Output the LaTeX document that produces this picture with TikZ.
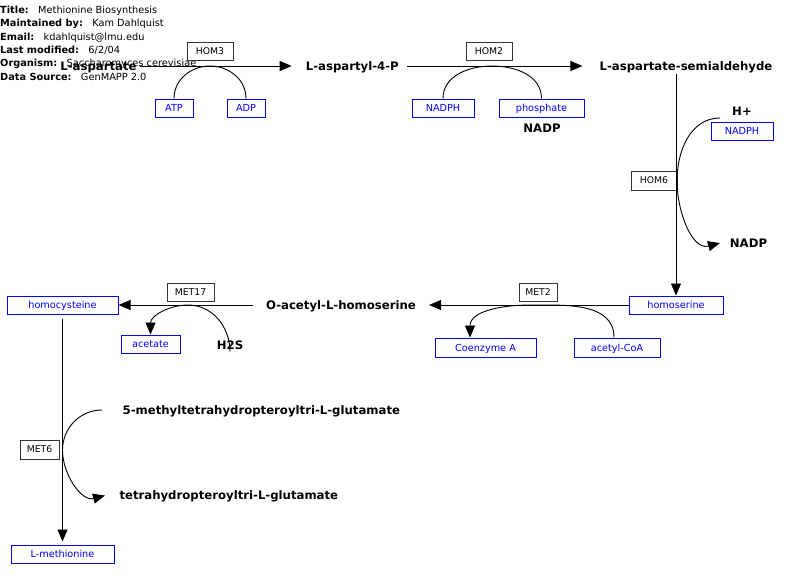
\documentclass[tikz,border=0pt]{standalone}
\usepackage{fontspec}
\setmainfont{DejaVu Sans}
\usetikzlibrary{arrows.meta}
\begin{document}
\begin{tikzpicture}[x=1pt,y=-1pt,
  met/.style={font=\fontsize{11.7}{14}\selectfont\bfseries, inner sep=0pt, text height=8.5pt, text depth=0pt},
  enz/.style={draw=black!80, line width=0.9pt, font=\fontsize{9.3}{11}\selectfont, minimum height=18pt, inner sep=0pt, text height=6.8pt, text depth=0pt},
  gene/.style={draw=blue, line width=1pt, text=blue, font=\fontsize{9.7}{11}\selectfont, minimum height=18pt, inner sep=0pt, text height=7.1pt, text depth=0pt},
  info/.style={anchor=west, inner sep=0pt, font=\fontsize{9.8}{12}\selectfont, text height=7.2pt, text depth=0pt},
  rxn/.style={-{Triangle[length=12pt,width=10pt]}, line width=0.9pt},
  side/.style={line width=0.9pt},
  sidearr/.style={-{Triangle[length=12pt,width=10pt]}, line width=0.9pt}]
\useasboundingbox (0,0) rectangle (800,578);

% info block
\node[info] (t1) at (0,10) {\textbf{Title:}\ \ \ Methionine Biosynthesis};
\node[info] (t2) at (0,23.3) {\textbf{Maintained by:}\ \ \ Kam Dahlquist};
\node[info] (t3) at (0,36.6) {\textbf{Email:}\ \ \ kdahlquist@lmu.edu};
\node[info] (t4) at (0,50) {\textbf{Last modified:}\ \ \ 6/2/04};
\node[info] (t5) at (0,63.3) {\textbf{Organism:}\ \ \ Saccharomyces cerevisiae};
\node[info] (t6) at (0,76.6) {\textbf{Data Source:}\ \ \ GenMAPP 2.0};

% metabolites
\node[met] (asp) at (98.5,66) {L-aspartate};
\node[met] (asp4p) at (352.3,66) {L-aspartyl-4-P};
\node[met] (sald) at (686,66) {L-aspartate-semialdehyde};
\node[met] (nadp1) at (542,128) {NADP};
\node[met] (hplus) at (742,111.5) {H+};
\node[met] (nadp2) at (748.5,243) {NADP};
\node[met] (oah) at (341,305) {O-acetyl-L-homoserine};
\node[met] (h2s) at (230,345) {H2S};
\node[met, anchor=west] (mthf) at (122.5,410.5) {5-methyltetrahydropteroyltri-L-glutamate};
\node[met, anchor=west] (thf) at (119.3,495.3) {tetrahydropteroyltri-L-glutamate};

% gene products
\node[gene, minimum width=38pt] (atp) at (174,108) {ATP};
\node[gene, minimum width=38pt] (adp) at (246,108) {ADP};
\node[gene, minimum width=62pt] (nadph1) at (443,108) {NADPH};
\node[gene, minimum width=85pt] (phos) at (541.5,108) {phosphate};
\node[gene, minimum width=62pt] (nadph2) at (742,131) {NADPH};
\node[gene, minimum width=94pt] (hser) at (676,305) {homoserine};
\node[gene, minimum width=101pt, minimum height=19pt] (coa) at (485.5,347.5) {Coenzyme A};
\node[gene, minimum width=86pt, minimum height=19pt] (accoa) at (617,347.5) {acetyl-CoA};
\node[gene, minimum width=59pt] (acet) at (150.5,344) {acetate};
\node[gene, minimum width=111pt] (hcy) at (62.5,305) {homocysteine};
\node[gene, minimum width=103pt] (lmet) at (62.5,554) {L-methionine};

% enzymes
\node[enz, minimum width=46pt] (hom3) at (210,51) {HOM3};
\node[enz, minimum width=46pt] (hom2) at (489,51) {HOM2};
\node[enz, minimum width=46pt, minimum height=19pt] (hom6) at (654,180.5) {HOM6};
\node[enz, minimum width=38pt] (met2) at (538,292) {MET2};
\node[enz, minimum width=47pt] (met17) at (190.5,292) {MET17};
\node[enz, minimum width=39pt, minimum height=19pt] (met6) at (39.5,449.5) {MET6};

% main reactions
\draw[rxn, shorten <=3pt, shorten >=14pt] (asp.east) -- (asp4p.west);
\draw[rxn, shorten <=8pt, shorten >=17pt] (asp4p.east) -- (sald.west);
\draw[rxn, shorten <=4pt] (hser.north |- sald.south) -- (hser.north);
\draw[rxn, shorten >=13pt] (hser.west) -- (oah.east);
\draw[rxn, shorten <=13pt] (oah.west) -- (hcy.east);
\draw[rxn, shorten <=4pt, shorten >=3pt] (hcy.south) -- (lmet.north);

% side reactions
\coordinate (p3) at (210,66);
\draw[side] (atp.north) to[out=90,in=180] (p3) to[out=0,in=90] (adp.north);
\coordinate (p2) at (492,66);
\draw[side] (nadph1.north) to[out=90,in=180] (p2) to[out=0,in=90] (phos.north);
\coordinate (s6) at (720,118);
\coordinate (p6) at (677,181);
\coordinate (e6) at (720,243);
\draw[sidearr] (s6) to[out=180,in=90] (p6) to[out=-90,in=195] (e6);
\coordinate (pm2) at (530,305);
\draw[sidearr] (accoa.north -| 614,0) to[out=90,in=0] (pm2) to[out=180,in=90] ([xshift=-15.5pt]coa.north);
\coordinate (pm17) at (188,305);
\draw[sidearr] ([yshift=-11pt]h2s.north) to[out=90,in=0] (pm17) to[out=180,in=90] (acet.north);
\coordinate (s7) at (102,410);
\coordinate (pm6) at (62.5,450);
\coordinate (e7) at (105,495.5);
\draw[sidearr] (s7) to[out=180,in=90] (pm6) to[out=-90,in=195] (e7);
\end{tikzpicture}
\end{document}
